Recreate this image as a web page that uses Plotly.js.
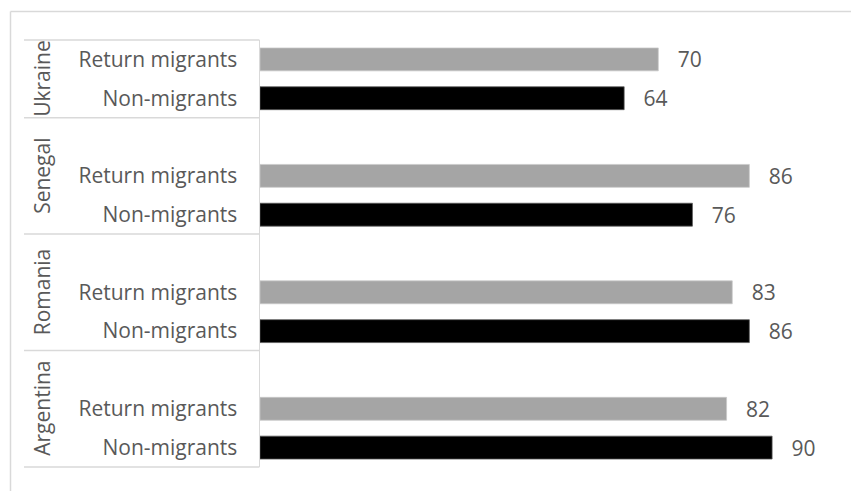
<!DOCTYPE html>
<html>
<head>
<meta charset="utf-8">
<script src="https://cdn.plot.ly/plotly-3.0.1.min.js"></script>
<style>html,body{margin:0;padding:0;background:#fff;}#chart{width:851px;height:491px;}</style>
</head>
<body>
<div id="chart"></div>
<script>
// Data (top to bottom as in the chart)
var countries = ['Ukraine', 'Senegal', 'Romania', 'Argentina'];
var seriesNames = ['Return migrants', 'Non-migrants'];
var returnMigrants = [70, 86, 83, 82];
var nonMigrants = [64, 76, 86, 90];

// Row layout: each country gets Non (bottom), Return, and a spacer row above (except top group)
var nG = countries.length;
function rowBase(i) { return 3 * (nG - 1 - i); } // Argentina -> 0
var yRet = countries.map(function (c, i) { return rowBase(i) + 1; });
var yNon = countries.map(function (c, i) { return rowBase(i); });
var yRange = [-0.5, 3 * nG - 1 - 0.5];

var tickvals = [], ticktext = [];
countries.forEach(function (c, i) {
  tickvals.push(yRet[i]); ticktext.push(seriesNames[0]);
  tickvals.push(yNon[i]); ticktext.push(seriesNames[1]);
});

var FONT = 'Open Sans, Noto Sans, sans-serif';
var FS = 21;
var TXT = '#595959';
var pad = '\u00a0\u00a0\u00a0';

var traces = [
  {
    type: 'bar', orientation: 'h', name: seriesNames[0],
    x: returnMigrants, y: yRet, width: 0.59,
    marker: { color: '#a5a5a5', line: { color: '#c8c8c8', width: 0.75 } },
    texttemplate: pad + '%{x}', textposition: 'outside', cliponaxis: false, constraintext: 'none',
    textfont: { family: FONT, size: FS, color: TXT },
    hoverinfo: 'x'
  },
  {
    type: 'bar', orientation: 'h', name: seriesNames[1],
    x: nonMigrants, y: yNon, width: 0.59,
    marker: { color: '#000000', line: { color: '#595959', width: 0.75 } },
    texttemplate: pad + '%{x}', textposition: 'outside', cliponaxis: false, constraintext: 'none',
    textfont: { family: FONT, size: FS, color: TXT },
    hoverinfo: 'x'
  }
];

var L = 260, R = 22, T = 40, B = 24;
var W = 851 - L - R, H = 491 - T - B;
function px2x(p) { return (p - L) / W; }
function px2y(p) { return (491 - B - p) / H; }
function cat2paper(v) { return (v - yRange[0]) / (yRange[1] - yRange[0]); }

// group separators on the category axis, drawn as one path in paper coordinates
var seps = [yRange[0]];
countries.forEach(function (c, i) { seps.push(rowBase(i) + (i === 0 ? 1.5 : 2.5)); });
var sepPath = seps.map(function (s) {
  var yp = cat2paper(s);
  return 'M' + px2x(24) + ',' + yp + ' L' + (-0.001) + ',' + yp;
}).join(' ');

var shapes = [
  { type: 'path', xref: 'paper', yref: 'paper', path: sepPath, line: { color: '#d9d9d9', width: 1.5 } },
  // chart area border (top and left visible)
  { type: 'line', xref: 'paper', yref: 'paper', x0: px2x(10.5), x1: px2x(860), y0: px2y(11.5), y1: px2y(11.5),
    line: { color: '#d9d9d9', width: 1.5 } },
  { type: 'line', xref: 'paper', yref: 'paper', x0: px2x(10.5), x1: px2x(10.5), y0: px2y(11.5), y1: px2y(500),
    line: { color: '#d9d9d9', width: 1.5 } }
];

var annotations = countries.map(function (c, i) {
  var top = (i === 0) ? rowBase(i) + 1.5 : rowBase(i) + 2.5;
  var bottom = rowBase(i) - 0.5;
  return {
    text: c, xref: 'paper', yref: 'y', x: px2x(42), y: (top + bottom) / 2,
    textangle: -90, showarrow: false, xanchor: 'center', yanchor: 'middle',
    font: { family: FONT, size: FS, color: TXT }
  };
});

var layout = {
  width: 851, height: 491,
  margin: { l: L, r: R, t: T, b: B, pad: 0 },
  paper_bgcolor: '#ffffff', plot_bgcolor: '#ffffff',
  showlegend: false,
  barmode: 'overlay',
  xaxis: { range: [0, 100], showgrid: false, zeroline: false, showticklabels: false, showline: false, ticks: '' },
  yaxis: {
    range: yRange, tickmode: 'array', tickvals: tickvals, ticktext: ticktext,
    showgrid: false, zeroline: false, showline: true, linecolor: '#d9d9d9', linewidth: 1.5,
    ticks: '', ticklabelstandoff: 17,
    tickfont: { family: FONT, size: FS, color: TXT }
  },
  shapes: shapes,
  annotations: annotations,
  font: { family: FONT }
};

Plotly.newPlot('chart', traces, layout, { displayModeBar: false, staticPlot: true });
</script>
</body>
</html>
